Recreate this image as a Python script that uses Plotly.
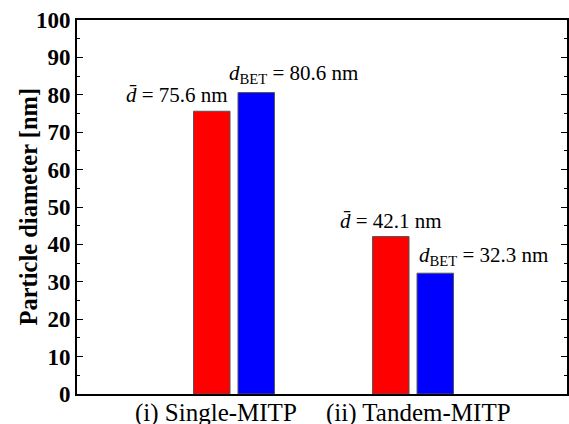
import plotly.graph_objects as go

categories = ["(i) Single-MITP", "(ii) Tandem-MITP"]
mean_d = [75.6, 42.1]
d_bet = [80.6, 32.3]
yticks = [0, 10, 20, 30, 40, 50, 60, 70, 80, 90, 100]
y_title = "Particle diameter [nm]"

FONT = "Times New Roman, Liberation Serif, serif"

fig = go.Figure()
fig.add_trace(go.Bar(x=categories, y=mean_d, marker=dict(color="#FF0000", line=dict(color="#555555", width=1)), name="mean"))
fig.add_trace(go.Bar(x=categories, y=d_bet, marker=dict(color="#0000FF", line=dict(color="#555555", width=1)), name="BET"))

ann_font = dict(family=FONT, size=21, color="black")
fig.add_annotation(x=categories[0], y=mean_d[0], text="<i>d\u0304</i> = %.1f nm" % mean_d[0], xref="x", yref="y",
                   showarrow=False, xanchor="right", yanchor="bottom", xshift=-4, yshift=2, font=ann_font)
fig.add_annotation(x=categories[0], y=d_bet[0], text="<i>d</i><sub>BET</sub> = %.1f nm" % d_bet[0], xref="x", yref="y",
                   showarrow=False, xanchor="left", yanchor="bottom", xshift=-7, yshift=4, font=ann_font)
fig.add_annotation(x=categories[1], y=mean_d[1], text="<i>d\u0304</i> = %.1f nm" % mean_d[1], xref="x", yref="y",
                   showarrow=False, xanchor="center", yanchor="bottom", xshift=-22, yshift=2, font=ann_font)
fig.add_annotation(x=categories[1], y=d_bet[1], text="<i>d</i><sub>BET</sub> = %.1f nm" % d_bet[1], xref="x", yref="y",
                   showarrow=False, xanchor="left", yanchor="bottom", xshift=4, yshift=2, font=ann_font)
# category labels (slightly offset from bar groups, as in the original)
for cat, dx in zip(categories, [-18, 5]):
    fig.add_annotation(x=cat, y=0, xref="x", yref="paper", text=cat, showarrow=False,
                       xanchor="center", yanchor="top", xshift=dx, yshift=-3,
                       font=dict(family=FONT, size=25, color="black"))
# y-axis title as rotated annotation
fig.add_annotation(x=-0.101, y=0.5, xref="paper", yref="paper", text="<b>%s</b>" % y_title,
                   textangle=-90, showarrow=False, xanchor="center", yanchor="middle",
                   font=dict(family=FONT, size=24.5, color="black"))

fig.update_layout(
    width=569, height=424,
    margin=dict(l=77, r=2, t=20, b=30, autoexpand=False),
    paper_bgcolor="white", plot_bgcolor="white",
    showlegend=False,
    barmode="group", bargap=0.503, bargroupgap=0.18,
    font=dict(family=FONT, color="black"),
    xaxis=dict(range=[-0.877, 1.860], showline=True, linecolor="black", linewidth=2, mirror=True, automargin=False,
               ticks="", showgrid=False, showticklabels=False),
    yaxis=dict(range=[0, 100], tickvals=yticks, automargin=False,
               showline=True, linecolor="black", linewidth=2, mirror="allticks",
               ticks="inside", ticklen=6, tickwidth=1, tickcolor="black", showgrid=False, zeroline=False,
               minor=dict(ticks="inside", ticklen=3, tickwidth=1, tickcolor="black", dtick=5, showgrid=False),
               tickfont=dict(family=FONT, size=23, color="black", weight="bold")),
)

fig.write_html("out.html", config={"displayModeBar": False},
               post_script="document.body.style.margin='0';document.body.style.padding='0';")
